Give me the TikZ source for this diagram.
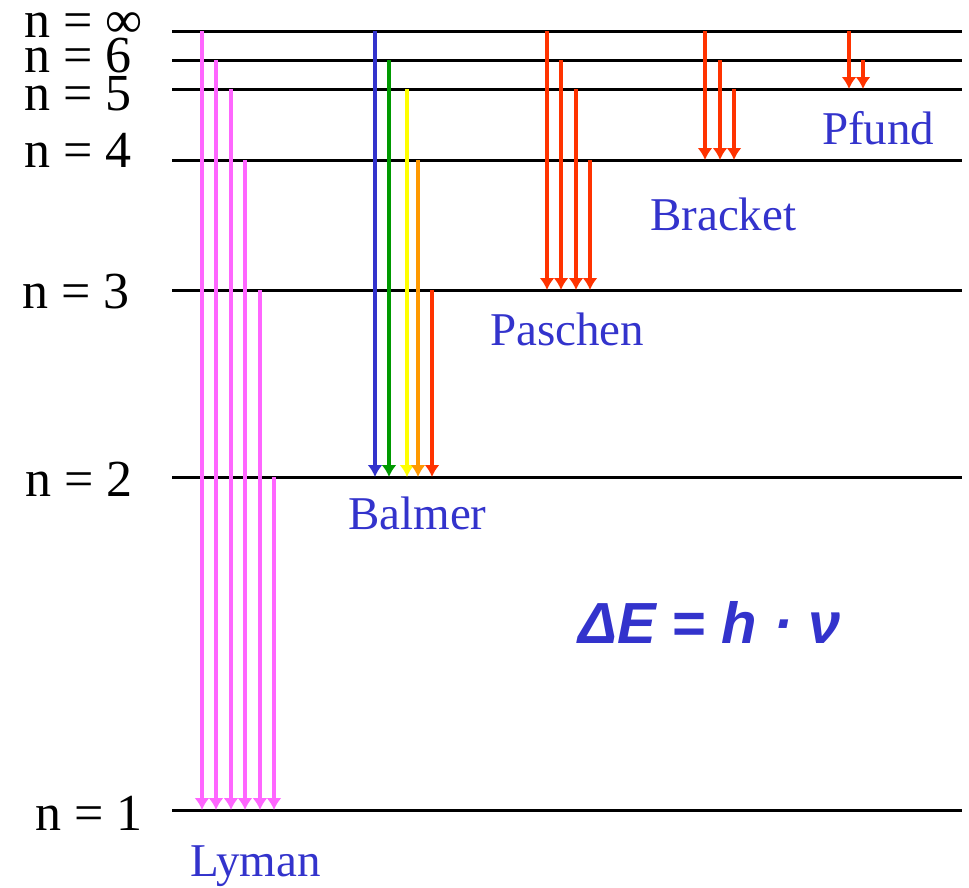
\documentclass[tikz,border=0pt]{standalone}
\usepackage{fontspec}
\setmainfont{Liberation Serif}
\newfontfamily\formulafont{Liberation Sans}
\usepackage{xcolor}
\usetikzlibrary{arrows.meta}
\definecolor{lymanpink}{HTML}{FF66FF}
\definecolor{textblue}{HTML}{3333CC}
\definecolor{balmergreen}{HTML}{009900}
\definecolor{balmeryellow}{HTML}{FFFF00}
\definecolor{balmerorange}{HTML}{FF9900}
\definecolor{linered}{HTML}{FF3300}

\begin{document}
\begin{tikzpicture}[x=1pt,y=-1pt]
		\tikzset{level/.style={line width=3pt},
			lvl/.style={anchor=base east,inner sep=0pt,font=\fontsize{52}{52}\selectfont},
			series/.style={anchor=base west,inner sep=0pt,text=textblue,font=\fontsize{47}{47}\selectfont},
			trans/.style={line width=3.6pt,-{Latex[length=12pt 0,width=15pt 0]}}}
		\useasboundingbox (0,0) rectangle (969,887);
		% energy levels
		\coordinate (inf) at (172,31);  \coordinate (inf') at (962,31);
		\coordinate (n6) at (172,60);   \coordinate (n6') at (962,60);
		\coordinate (n5) at (172,89);   \coordinate (n5') at (962,89);
		\coordinate (n4) at (172,160);  \coordinate (n4') at (962,160);
		\coordinate (n3) at (172,290);  \coordinate (n3') at (962,290);
		\coordinate (n2) at (172,477);  \coordinate (n2') at (962,477);
		\coordinate (n1) at (172,810);  \coordinate (n1') at (962,810);
		\draw[level] (inf) -- (inf');
		\draw[level] (n6) -- (n6');
		\draw[level] (n5) -- (n5');
		\draw[level] (n4) -- (n4');
		\draw[level] (n3) -- (n3');
		\draw[level] (n2) -- (n2');
		\draw[level] (n1) -- (n1');
		\node[lvl] (linf) at (143,37) {n = ∞};
		\node[lvl] (l6) at (132,72) {n = 6};
		\node[lvl] (l5) at (132,110) {n = 5};
		\node[lvl] (l4) at (132,167) {n = 4};
		\node[lvl] (l3) at (130,308) {n = 3};
		\node[lvl] (l2) at (133,496) {n = 2};
		\node[lvl] (l1) at (143,830) {n = 1};
		% Lyman
		\draw[trans, lymanpink] (202,0 |- inf) -- (202,0 |- n1);
		\draw[trans, lymanpink] (216,0 |- n6) -- (216,0 |- n1);
		\draw[trans, lymanpink] (231,0 |- n5) -- (231,0 |- n1);
		\draw[trans, lymanpink] (245,0 |- n4) -- (245,0 |- n1);
		\draw[trans, lymanpink] (260,0 |- n3) -- (260,0 |- n1);
		\draw[trans, lymanpink] (274,0 |- n2) -- (274,0 |- n1);
		\node[series] (lyman) at (190,876) {Lyman};
		% Balmer
		\draw[trans, textblue] (375,0 |- inf) -- (375,0 |- n2);
		\draw[trans, balmergreen] (389,0 |- n6) -- (389,0 |- n2);
		\draw[trans, balmeryellow] (407,0 |- n5) -- (407,0 |- n2);
		\draw[trans, balmerorange] (418,0 |- n4) -- (418,0 |- n2);
		\draw[trans, linered] (432,0 |- n3) -- (432,0 |- n2);
		\node[series] (balmer) at (348,529) {Balmer};
		% Paschen
		\draw[trans, linered] (547,0 |- inf) -- (547,0 |- n3);
		\draw[trans, linered] (561,0 |- n6) -- (561,0 |- n3);
		\draw[trans, linered] (576,0 |- n5) -- (576,0 |- n3);
		\draw[trans, linered] (590,0 |- n4) -- (590,0 |- n3);
		\node[series] (paschen) at (490,345) {Paschen};
		% Bracket
		\draw[trans, linered] (705,0 |- inf) -- (705,0 |- n4);
		\draw[trans, linered] (720,0 |- n6) -- (720,0 |- n4);
		\draw[trans, linered] (734,0 |- n5) -- (734,0 |- n4);
		\node[series] (bracket) at (650,230) {Bracket};
		% Pfund
		\draw[trans, linered] (849,0 |- inf) -- (849,0 |- n5);
		\draw[trans, linered] (863,0 |- n6) -- (863,0 |- n5);
		\node[series] (pfund) at (822,144) {Pfund};
		\node[anchor=base west, inner sep=0pt, text=textblue, font=\formulafont\bfseries\itshape\fontsize{58}{58}\selectfont] (energy) at (578,643) {ΔE = h · ν};
	\end{tikzpicture}
\end{document}
